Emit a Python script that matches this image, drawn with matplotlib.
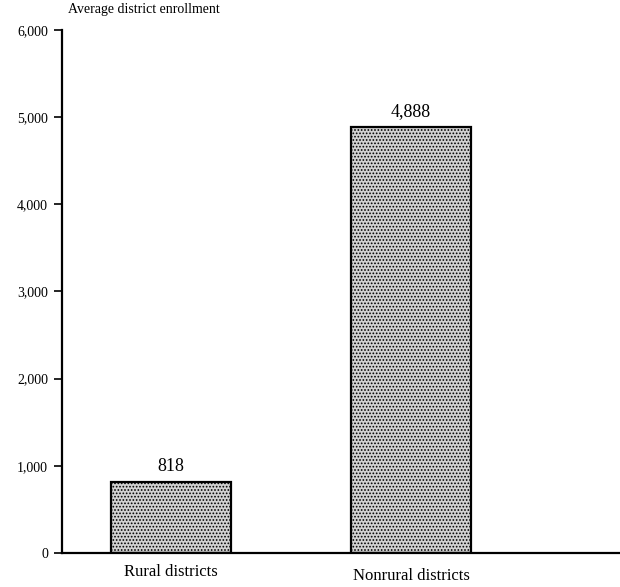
import numpy as np
import matplotlib.pyplot as plt

categories = ['Rural districts', 'Nonrural districts']
enrollment = [818, 4888]
yticks = [0, 1000, 2000, 3000, 4000, 5000, 6000]

plt.rcParams['font.family'] = ['Liberation Serif', 'DejaVu Serif']
plt.rcParams['hatch.color'] = '#9a9a9a'
plt.rcParams['hatch.linewidth'] = 0.8

fig = plt.figure(figsize=(6.2, 5.87), dpi=100)
ax = fig.add_axes([0.1, 0.058, 0.9, 0.891])

x = np.arange(len(categories))
ax.bar(x, enrollment, width=0.5, color='#d2d2d2', edgecolor='black', linewidth=1.6,
       hatch='.....')
for xi, v in zip(x, enrollment):
    ax.text(xi, v + 80, f'{v:,}', ha='center', va='bottom', fontsize=13)

ax.set_xlim(-0.454, 1.871)
ax.set_ylim(0, 6000)
ax.set_yticks(yticks)
ax.set_yticklabels([f'{t:,}' for t in yticks], fontsize=10)
ax.set_xticks(x)
ax.set_xticklabels(categories, fontsize=12)
ax.tick_params(axis='x', length=0, pad=8)
ax.tick_params(axis='y', length=6, width=1.2, pad=4)
for lbl, dy in zip(ax.get_xticklabels(), [0, -4]):
    lbl.set_y(dy / 587)

ax.spines['top'].set_visible(False)
ax.spines['right'].set_visible(False)
ax.spines['left'].set_linewidth(1.6)
ax.spines['bottom'].set_linewidth(1.6)

fig.text(0.11, 0.972, 'Average district enrollment', fontsize=10, ha='left', va='bottom')

fig.savefig('out.png', dpi=100)
